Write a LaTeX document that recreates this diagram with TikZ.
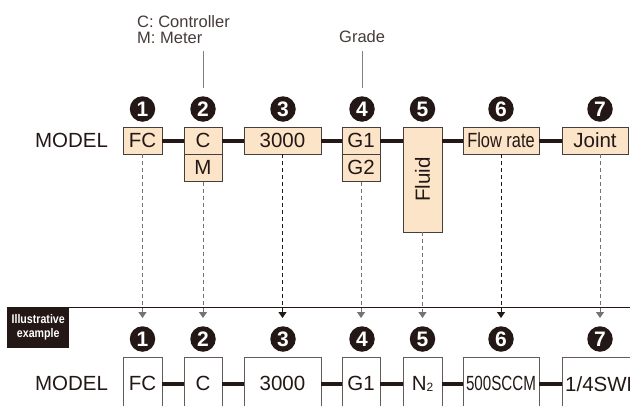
\documentclass[tikz,border=0pt]{standalone}
\usepackage{fontspec}
\setmainfont{Liberation Sans}
\usepackage{tikz}
\usetikzlibrary{calc,arrows.meta}
\definecolor{peach}{RGB}{252,228,200}
\definecolor{ink}{RGB}{35,24,21}
\definecolor{rim}{RGB}{70,62,58}

\begin{document}
\begin{tikzpicture}[>={Triangle[width=8pt,length=6pt]},x=1pt,y=-1pt,
  part/.style={draw=rim,fill=peach,text=ink,minimum height=27pt,inner sep=0pt,font=\fontsize{20.5}{22}\selectfont},
  sample/.style={draw=rim!85,fill=white,text=ink,minimum height=53pt,inner sep=0pt,font=\fontsize{20.5}{22}\selectfont},
  num/.style={circle,fill=ink,text=white,minimum size=25.5pt,inner sep=0pt,font=\bfseries\fontsize{21}{21}\selectfont},
  link/.style={ink,line width=4pt},
  pick/.style={->,dash pattern=on 4pt off 3pt,black!55,line width=1pt},
  note/.style={text=ink!85,inner sep=0pt,align=left,font=\fontsize{16.5}{16}\selectfont}]
  \useasboundingbox (0,0) rectangle (630,405);
  \clip (0,0) rectangle (630,405);
  % Notes above the code
  \node[note,anchor=north west] (ctrl) at (137,15) {C: Controller\\M: Meter};
  \node[note,anchor=north west] (grade) at (339,30) {Grade};
  % Model code, top row
  \node[text=ink,font=\fontsize{20.5}{22}\selectfont] (model) at (71.5,140.5) {MODEL};
  \node[part,minimum width=39pt] (fc) at (142.5,140.5) {FC};
  \node[part,minimum width=38pt] (c) at (203,140.5) {C};
  \node[part,minimum width=38pt,anchor=north] (m) at (c.south) {M};
  \node[part,minimum width=77pt] (k3000) at (282.5,140.5) {3000};
  \node[part,minimum width=38pt] (g1) at (361,140.5) {G1};
  \node[part,minimum width=38pt,anchor=north] (g2) at (g1.south) {G2};
  \node[part,minimum width=39pt,minimum height=105pt,anchor=north] (fluid) at (422.5,127) {\rotatebox{90}{Fluid}};
  \node[part,minimum width=76pt] (flow) at (501,140.5) {\scalebox{0.8}[1]{Flow rate}};
  \node[part,minimum width=66pt] (joint) at (595,140.5) {Joint};
  \draw[link] (fc) -- (c);
  \draw[link] (c) -- (k3000);
  \draw[link] (k3000) -- (g1);
  \draw[link] (g1.east) -- (g1.east -| fluid.west);
  \draw[link] (flow.west -| fluid.east) -- (flow.west);
  \draw[link] (flow) -- (joint);
  % Circled numbers
  \foreach \k/\x in {1/142.5,2/203,3/283,4/362,5/422.5,6/501,7/600}{
    \node[num] (n\k) at (\x,109) {\k};
    \node[num] (b\k) at (\x,339) {\k};
  }
  \draw[gray,line width=0.8pt] (n2) ++(0,-21) -- ++(0,-37);
  \draw[gray,line width=0.8pt] (n4) ++(0,-21) -- ++(0,-37);
  % Dashed pointers down to the example
  \coordinate (tips) at (0,318);
  \draw[pick] (fc.south) -- (fc.south |- tips);
  \draw[pick] (m.south) -- (m.south |- tips);
  \draw[pick,ink] (k3000.south) -- (k3000.south |- tips);
  \draw[pick] (g2.south) -- (g2.south |- tips);
  \draw[pick] (fluid.south) -- (fluid.south |- tips);
  \draw[pick,ink] (flow.south) -- (flow.south |- tips);
  \draw[pick] (joint.south -| n7) -- (n7 |- tips);
  % Illustrative example
  \node[fill=ink,text=white,font=\bfseries\fontsize{12.5}{14}\selectfont,align=center,minimum width=62pt,minimum height=41pt,inner sep=0pt,anchor=north west] (ill) at (7,307) {\scalebox{0.85}[1]{Illustrative}\\\scalebox{0.85}[1]{example}};
  \coordinate (sepend) at (630,307.5);
  \draw[ink,line width=1pt] (ill.north east) -- (ill.north east -| sepend);
  \node[text=ink,font=\fontsize{20.5}{22}\selectfont] (smodel) at (71.5,383.5) {MODEL};
  \node[sample,minimum width=39pt,anchor=north] (sfc) at (142.5,357) {FC};
  \node[sample,minimum width=38pt,anchor=north] (sc) at (203,357) {C};
  \node[sample,minimum width=77pt,anchor=north] (s3000) at (282.5,357) {3000};
  \node[sample,minimum width=38pt,anchor=north] (sg1) at (361,357) {G1};
  \node[sample,minimum width=39pt,anchor=north] (sn2) at (422.5,357) {N\raisebox{-1.5pt}{\fontsize{12}{12}\selectfont 2}};
  \node[sample,minimum width=76pt,anchor=north] (ssccm) at (501,357) {\scalebox{0.74}[1]{500SCCM}};
  \node[sample,inner xsep=3pt,anchor=north west] (sswl) at (562,357) {1/4SWL};
  \draw[link] (sfc) -- (sc);
  \draw[link] (sc) -- (s3000);
  \draw[link] (s3000) -- (sg1);
  \draw[link] (sg1) -- (sn2);
  \draw[link] (sn2) -- (ssccm);
  \draw[link] (ssccm) -- (sswl);
\end{tikzpicture}
\end{document}
